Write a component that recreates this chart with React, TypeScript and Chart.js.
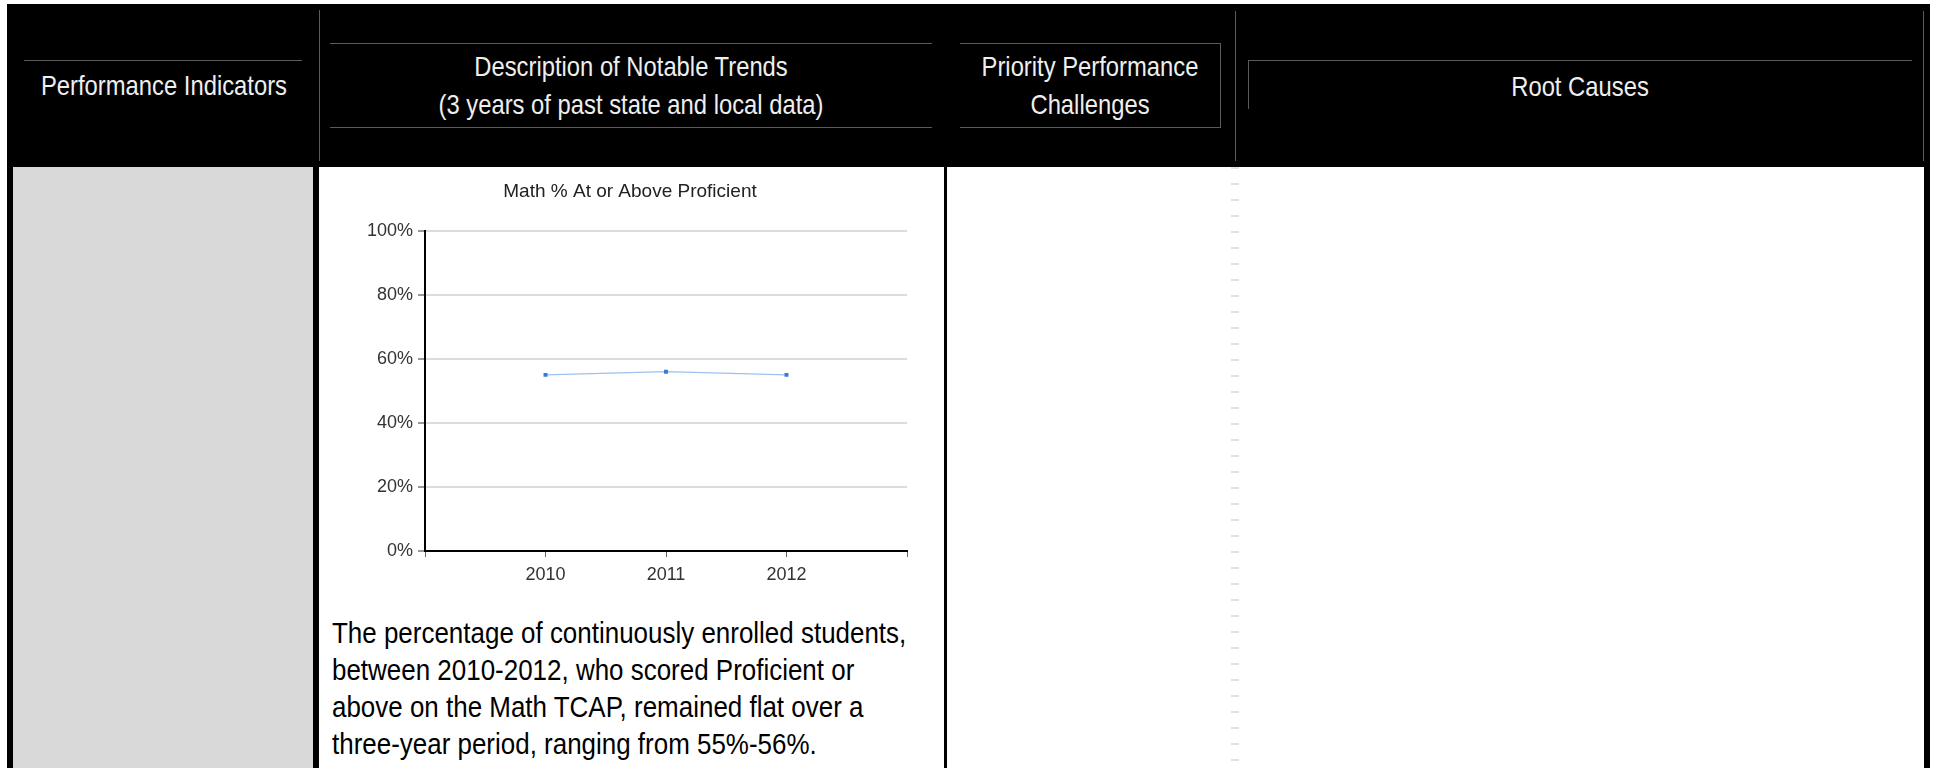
import React, { useEffect, useRef } from "react";
import { Chart, registerables } from "chart.js";

Chart.register(...registerables);

// Chart data: empty slots at both ends leave a margin before 2010 and after 2012
const years = ["", "2010", "2011", "2012", ""];
const mathProficient: (number | null)[] = [null, 55, 56, 55, null];
const yMin = 0;
const yMax = 100;
const yStep = 20;
const chartTitle = "Math % At or Above Proficient";

// Table text
const indicatorsHeader = ["Performance Indicators"];
const trendsHeader = ["Description of Notable Trends", "(3 years of past state and local data)"];
const challengesHeader = ["Priority Performance", "Challenges"];
const causesHeader = ["Root Causes"];
const trendSummary = [
  "The percentage of continuously enrolled students,",
  "between 2010-2012, who scored Proficient or",
  "above on the Math TCAP, remained flat over a",
  "three-year period, ranging from 55%-56%.",
];

// Narrow face emulated by horizontally condensing Liberation Sans
const NARROW = "'Liberation Sans Narrow', 'Arial Narrow', 'Liberation Sans', Arial, sans-serif";
const SANS = "'Liberation Sans', Arial, Helvetica, sans-serif";
const ASC = 0.905;
const DESC = 0.212;

type TextBlockProps = {
  lines: string[];
  cx?: number;
  left?: number;
  baseline: number;
  size: number;
  lineHeight: number;
  color: string;
  family: string;
  squeeze: number;
};

function TextBlock({ lines, cx, left, baseline, size, lineHeight, color, family, squeeze }: TextBlockProps) {
  const halfLeading = (lineHeight - (ASC + DESC) * size) / 2;
  const top = baseline - halfLeading - ASC * size;
  const centered = cx !== undefined;
  const width = 1000;
  return (
    <div
      style={{
        position: "absolute",
        top,
        left: centered ? (cx as number) - width / 2 : left,
        width: centered ? width : undefined,
        textAlign: centered ? "center" : "left",
        fontFamily: family,
        fontSize: size,
        lineHeight: `${lineHeight}px`,
        color,
        whiteSpace: "nowrap",
        transform: `scaleX(${squeeze})`,
        transformOrigin: centered ? "50% 0" : "0 0",
      }}
    >
      {lines.map((l, i) => (
        <div key={i}>{l}</div>
      ))}
    </div>
  );
}

function Box({ x, y, w, h, bg }: { x: number; y: number; w: number; h: number; bg: string }) {
  return <div style={{ position: "absolute", left: x, top: y, width: w, height: h, background: bg }} />;
}

function MathChart() {
  const canvasRef = useRef<HTMLCanvasElement | null>(null);

  useEffect(() => {
    const canvas = canvasRef.current;
    if (!canvas) return;
    const chart = new Chart(canvas, {
      type: "line",
      data: {
        labels: years,
        datasets: [
          {
            data: mathProficient,
            borderColor: "#9ec2ee",
            borderWidth: 1.2,
            tension: 0,
            pointStyle: "rect",
            pointRadius: 2.8,
            pointBorderWidth: 0,
            pointBackgroundColor: "#3a7ad6",
            fill: false,
          },
        ],
      },
      options: {
        animation: false,
        responsive: false,
        maintainAspectRatio: false,
        layout: { padding: { left: 33, right: 23, top: 0, bottom: 0 } },
        plugins: {
          legend: { display: false },
          tooltip: { enabled: false },
          title: {
            display: true,
            text: chartTitle,
            color: "#222",
            font: { family: SANS, size: 19, weight: "normal" },
            padding: { top: 10, bottom: 28 },
          },
        },
        scales: {
          x: {
            type: "category",
            offset: false,
            grid: { drawOnChartArea: false, drawTicks: true, tickLength: 6, tickColor: "#666", lineWidth: 1 },
            border: { color: "#000", width: 2 },
            ticks: {
              color: "#333",
              font: { family: SANS, size: 18 },
              padding: 7,
              autoSkip: false,
              maxRotation: 0,
            },
            afterFit: (scale: any) => {
              scale.height = 44;
            },
          },
          y: {
            min: yMin,
            max: yMax,
            grid: { color: "#dcdcdc", lineWidth: 2, tickLength: 7, tickColor: "#999" },
            border: { color: "#000", width: 2 },
            ticks: {
              stepSize: yStep,
              color: "#333",
              font: { family: SANS, size: 18 },
              padding: 5,
              callback: (v: any) => `${v}%`,
            },
            afterFit: (scale: any) => {
              scale.width = 72;
            },
          },
        },
      } as any,
    });
    return () => chart.destroy();
  }, []);

  return (
    <div style={{ position: "absolute", left: 320, top: 170, width: 610, height: 425 }}>
      <canvas ref={canvasRef} width={610} height={425} style={{ width: 610, height: 425, display: "block" }} />
    </div>
  );
}

export default function App() {
  const lineGray = "#5a5a5a";
  const headColor = "#eeeeee";
  return (
    <div
      style={{
        position: "fixed",
        left: 0,
        top: 0,
        width: 1935,
        height: 768,
        background: "#fff",
        overflow: "hidden",
      }}
    >
      {/* header band */}
      <Box x={7} y={4} w={1923} h={163} bg="#000" />
      {/* header rules */}
      <Box x={24} y={60} w={278} h={1} bg={lineGray} />
      <Box x={319} y={10} w={1} h={151} bg={lineGray} />
      <Box x={330} y={43} w={602} h={1} bg={lineGray} />
      <Box x={330} y={127} w={602} h={1} bg={lineGray} />
      <Box x={960} y={43} w={260} h={1} bg={lineGray} />
      <Box x={960} y={127} w={261} h={1} bg={lineGray} />
      <Box x={1220} y={43} w={1} h={84} bg={lineGray} />
      <Box x={1235} y={11} w={1} h={150} bg={lineGray} />
      <Box x={1248} y={60} w={664} h={1} bg={lineGray} />
      <Box x={1248} y={60} w={1} h={49} bg={lineGray} />
      <Box x={1923} y={11} w={1} h={150} bg={lineGray} />

      <TextBlock lines={indicatorsHeader} cx={164} baseline={96} size={28} lineHeight={38} color={headColor} family={NARROW} squeeze={0.85} />
      <TextBlock lines={trendsHeader} cx={631} baseline={77} size={28} lineHeight={38} color={headColor} family={NARROW} squeeze={0.85} />
      <TextBlock lines={challengesHeader} cx={1090} baseline={77} size={28} lineHeight={38} color={headColor} family={NARROW} squeeze={0.85} />
      <TextBlock lines={causesHeader} cx={1580} baseline={97} size={28} lineHeight={38} color={headColor} family={NARROW} squeeze={0.85} />

      {/* body cells */}
      <Box x={7} y={167} w={6} h={601} bg="#000" />
      <Box x={13} y={167} w={300} h={601} bg="#d9d9d9" />
      <Box x={313} y={167} w={6} h={601} bg="#000" />
      <Box x={944} y={167} w={3} h={601} bg="#000" />
      <Box x={1924} y={167} w={6} h={601} bg="#000" />
      <div
        style={{
          position: "absolute",
          left: 1231,
          top: 167,
          width: 8,
          height: 601,
          backgroundImage: "repeating-linear-gradient(to bottom, #e2e2e2 0px, #e2e2e2 2px, transparent 2px, transparent 16px)",
        }}
      />

      <MathChart />

      <TextBlock lines={trendSummary} left={332} baseline={644} size={29} lineHeight={37} color="#000" family={NARROW} squeeze={0.895} />
    </div>
  );
}
